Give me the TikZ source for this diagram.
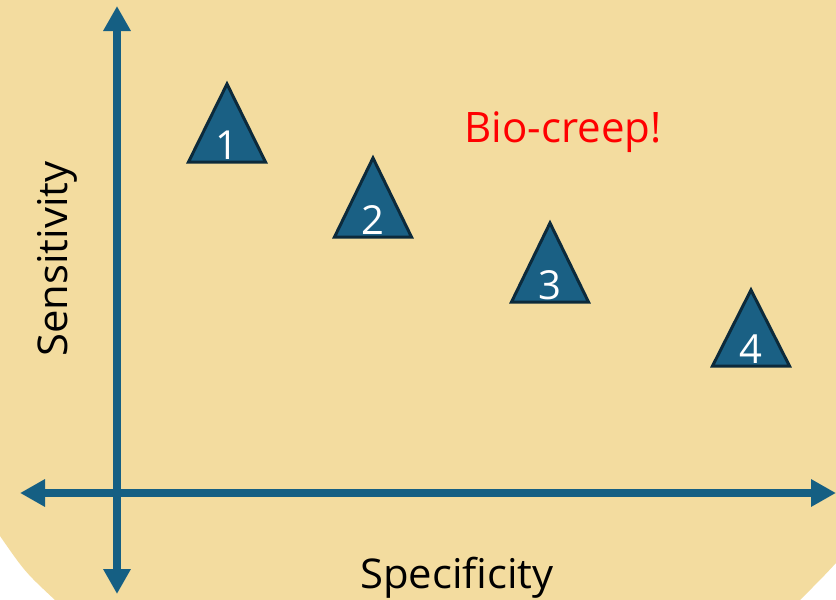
\documentclass[tikz,border=0pt]{standalone}
\usepackage{fontspec}
\setmainfont{Open Sans}
\usetikzlibrary{arrows.meta}
\definecolor{sand}{HTML}{F3DC9F}
\definecolor{axisblue}{HTML}{155F83}
\definecolor{markfill}{HTML}{1A6084}
\definecolor{markline}{HTML}{0C2A3B}
\begin{document}
\begin{tikzpicture}[x=1pt,y=-1pt,
  axisline/.style={axisblue,line width=8.5pt,
    {Triangle[length=25pt,width=26pt]}-{Triangle[length=25pt,width=26pt]}},
  marker/.style={fill=markfill,draw=markline,line width=3pt,line join=miter},
  marklabel/.style={white,font=\fontsize{40}{40}\selectfont,anchor=base,inner sep=0pt},
  axislabel/.style={black,font=\fontsize{41}{41}\selectfont,anchor=base,inner sep=0pt}]
  \useasboundingbox (0,0) rectangle (836,600);
  % backdrop panel with cut lower corners
  \fill[sand] (0,0) -- (836,0) -- (836,563) .. controls (822,578) .. (800,600)
    -- (55,600) .. controls (25,572) .. (0,536) -- cycle;
  % axes
  \coordinate (ytop) at (117,6);
  \coordinate (ybot) at (117,594);
  \coordinate (xleft) at (20,493);
  \coordinate (xright) at (836,493);
  \draw[axisline] (ybot) -- (ytop);
  \draw[axisline] (xleft) -- (xright);
  % axis labels
  \node[axislabel,rotate=90,xscale=1.02] (sens) at (67,259) {Sensitivity};
  \node[axislabel,xscale=1.02] (spec) at (457,588) {Specificity};
  % numbered markers
  \foreach \n/\cx/\top/\bas in {1/227/84/162, 2/373/158/237, 3/550/223/302, 4/751/290/366}{
    \draw[marker] (\cx,\top) -- (\cx+38.5,\bas) -- (\cx-38.5,\bas) -- cycle;
    \node[marklabel] (m\n) at (\cx,\bas-3) {\n};
  }
  \node[red,font=\fontsize{42}{42}\selectfont,anchor=base,inner sep=0pt] (creep) at (563,142) {Bio-creep!};
\end{tikzpicture}
\end{document}
